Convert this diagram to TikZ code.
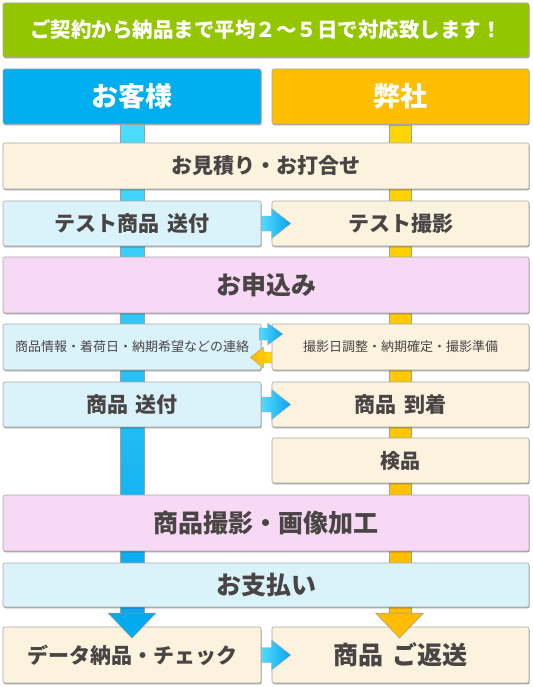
\documentclass[tikz,border=0pt]{standalone}
\usepackage{fontspec}
\setmainfont{Noto Sans CJK JP}
\usetikzlibrary{calc,shadows}
\definecolor{greenbar}{HTML}{94C600}
\definecolor{hblue}{HTML}{00AEEF}
\definecolor{horange}{HTML}{FFBE00}
\definecolor{lblue}{HTML}{DAF3FA}
\definecolor{cream}{HTML}{FBF3DE}
\definecolor{pink}{HTML}{F7D8F5}
\definecolor{boxline}{HTML}{A8A8A8}
\definecolor{txt}{HTML}{4A4545}
\definecolor{bartop}{HTML}{4CDCFF}
\definecolor{barbot}{HTML}{05A8EE}
\definecolor{ybartop}{HTML}{FFD600}
\definecolor{ybarbot}{HTML}{FFBB00}
\definecolor{arL}{HTML}{52DBFF}
\definecolor{arR}{HTML}{0CA3EC}
\definecolor{oaL}{HTML}{FFB400}
\definecolor{oaR}{HTML}{FFD800}
\tikzset{
  box/.style={draw=boxline, line width=0.6pt, rounded corners=2pt, inner sep=0pt,
    text=txt, font=\bfseries\fontsize{21}{24}\selectfont,
    drop shadow={shadow xshift=0.7pt, shadow yshift=-1.3pt, opacity=0.35, fill=black}},
  fullw/.style={minimum width=526pt},
  leftw/.style={minimum width=258pt},
  rightw/.style={minimum width=257pt},
  bigtext/.style={font=\bfseries\fontsize{25}{28}\selectfont},
  smalltext/.style={font=\fontsize{13}{15}\selectfont},
  rarrow/.style={left color=arL, right color=arR, draw=black!35, line width=0.4pt, line join=round},
  larrow/.style={left color=oaL, right color=oaR, draw=black!35, line width=0.4pt, line join=round},
  bluebar/.style={top color=bartop, bottom color=barbot, draw=gray!75, line width=0.8pt},
  yellowbar/.style={top color=ybartop, bottom color=ybarbot, draw=gray!75, line width=0.8pt},
}
\newcommand\flowarrow[2]{%
  \path[rarrow] let \p1=(#1.east), \p2=(#2.west) in
    (\x1,\y1+7.5pt) -- (\x2,\y1+7.5pt) -- (\x2,\y1+15pt) -- (\x2+19pt,\y1)
    -- (\x2,\y1-15pt) -- (\x2,\y1-7.5pt) -- (\x1,\y1-7.5pt) -- cycle;}
\newcommand\gap{\hspace{0.35em}}
\begin{document}
\begin{tikzpicture}[x=1pt,y=-1pt]
\useasboundingbox (0,0) rectangle (532,687);
% header nodes
\node[box, fullw, minimum height=54pt, fill=greenbar, text=white,
  font=\bfseries\fontsize{20.5}{24}\selectfont] (title) at (266,30) {ご契約から納品まで平均２～５日で対応致します！};
\node[box, leftw, minimum height=55pt, fill=hblue, text=white,
  font=\bfseries\fontsize{27}{30}\selectfont] (h1) at (132,96.5) {お客様};
\node[box, rightw, minimum height=55pt, fill=horange, text=white,
  font=\bfseries\fontsize{27}{30}\selectfont] (h2) at (400.5,96.5) {弊社};
% vertical bars
\coordinate (b1end) at (132,613);
\coordinate (b2end) at (399.5,613);
\path[bluebar] ($(h1.south)+(-12,0)$) rectangle ($(b1end)+(12,0)$);
\path[yellowbar] ($(h2.south)+(-11.5,1)$) rectangle ($(b2end)+(11.5,0)$);
% boxes
\node[box, fullw, minimum height=46pt, fill=cream] (est) at (266,166) {お見積り・お打合せ};
\node[box, leftw, minimum height=45pt, fill=lblue] (ts) at (132,223.5) {テスト商品\gap 送付};
\node[box, rightw, minimum height=45pt, fill=cream] (tsr) at (400.5,223.5) {テスト撮影};
\node[box, fullw, minimum height=56pt, fill=pink, bigtext] (app) at (266,285) {お申込み};
\node[box, leftw, minimum height=46pt, fill=lblue, smalltext] (c1) at (132,347) {商品情報・着荷日・納期希望などの連絡};
\node[box, rightw, minimum height=46pt, fill=cream, smalltext] (c2) at (400.5,347) {撮影日調整・納期確定・撮影準備};
\node[box, leftw, minimum height=45pt, fill=lblue] (s1) at (132,404.5) {商品\gap 送付};
\node[box, rightw, minimum height=45pt, fill=cream] (s2) at (400.5,404.5) {商品\gap 到着};
\node[box, rightw, minimum height=45pt, fill=cream, font=\bfseries\fontsize{20}{24}\selectfont] (ins) at (400.5,460.5) {検品};
\node[box, fullw, minimum height=56pt, fill=pink, bigtext] (photo) at (266,523) {商品撮影・画像加工};
\node[box, fullw, minimum height=44pt, fill=lblue, bigtext] (pay) at (266,585) {お支払い};
\node[box, leftw, minimum height=56pt, fill=cream] (d1) at (132,655) {データ納品・チェック};
\node[box, rightw, minimum height=56pt, fill=cream, bigtext] (d2) at (400.5,655) {商品\gap ご返送};
% horizontal arrows
\flowarrow{ts}{tsr}
\flowarrow{s1}{s2}
\flowarrow{d1}{d2}
\path[rarrow] let \p1=(c1.east), \p2=(c2.west) in
  (\x1-2pt,\y1+19pt) -- (\x2-4pt,\y1+19pt) -- (\x2-4pt,\y1+24pt) -- (\x2+11pt,\y1+13pt)
  -- (\x2-4pt,\y1+2pt) -- (\x2-4pt,\y1+7pt) -- (\x1-2pt,\y1+7pt) -- cycle;
\path[larrow] let \p1=(c1.east), \p2=(c2.west) in
  (\x2,\y1-5pt) -- (\x1+2pt,\y1-5pt) -- (\x1+2pt,\y1) -- (\x1-11pt,\y1-10.5pt)
  -- (\x1+2pt,\y1-21pt) -- (\x1+2pt,\y1-16pt) -- (\x2,\y1-16pt) -- cycle;
% down arrowheads
\path[top color=barbot, bottom color=hblue, draw=gray!80, line width=0.5pt, line join=round]
  ($(b1end)+(-24,0)$) -- ($(b1end)+(24,0)$) -- ($(b1end)+(0,25)$) -- cycle;
\path[top color=ybarbot, bottom color=horange, draw=gray!80, line width=0.5pt, line join=round]
  ($(b2end)+(-24,0)$) -- ($(b2end)+(24,0)$) -- ($(b2end)+(0,25)$) -- cycle;
\end{tikzpicture}
\end{document}
